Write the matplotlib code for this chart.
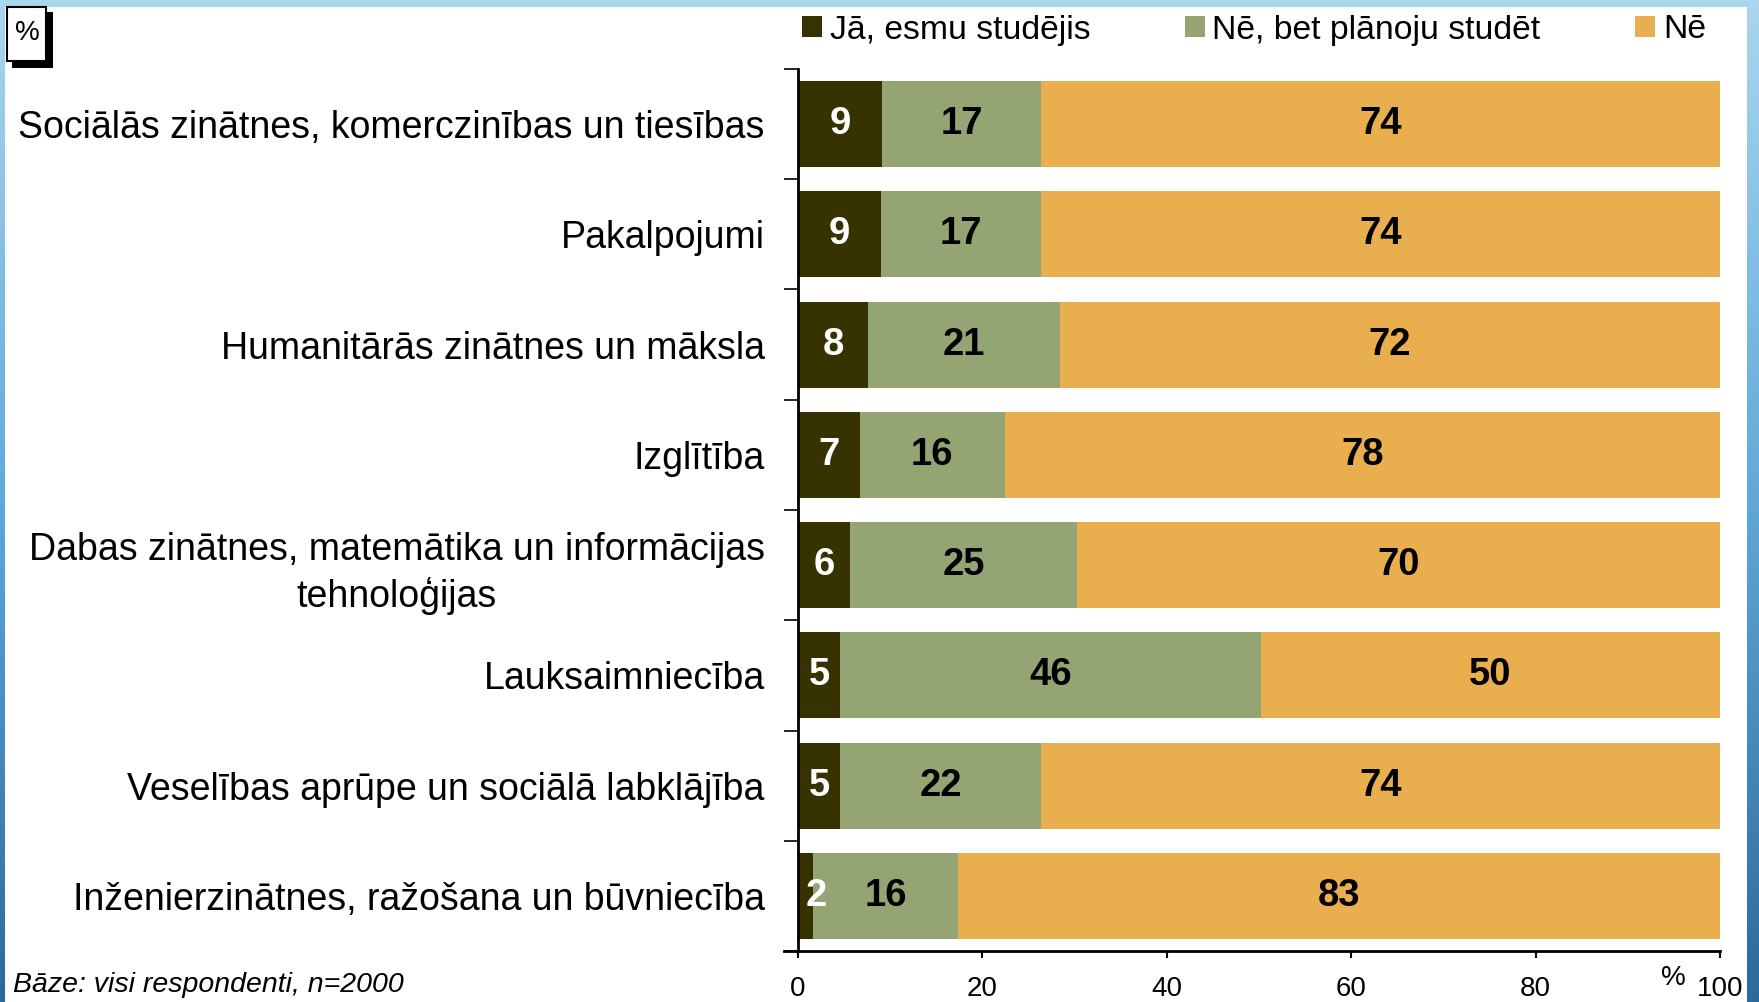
import matplotlib.pyplot as plt
import numpy as np
from matplotlib.patches import Rectangle, Patch
from matplotlib.colors import LinearSegmentedColormap

plt.rcParams['font.family'] = ['Liberation Sans', 'DejaVu Sans']

# data, top row first
categories = [
    'Sociālās zinātnes, komerczinības un tiesības',
    'Pakalpojumi',
    'Humanitārās zinātnes un māksla',
    'Izglītība',
    'Dabas zinātnes, matemātika un informācijas\ntehnoloģijas',
    'Lauksaimniecība',
    'Veselības aprūpe un sociālā labklājība',
    'Inženierzinātnes, ražošana un būvniecība',
]
studejis = [9.1, 9.0, 7.6, 6.7, 5.6, 4.6, 4.6, 1.6]
planoju = [17.3, 17.4, 20.8, 15.7, 24.7, 45.6, 21.8, 15.8]
ne = [73.6, 73.6, 71.6, 77.6, 69.7, 49.8, 73.6, 82.6]

series_names = ['Jā, esmu studējis', 'Nē, bet plānoju studēt', 'Nē']
series_colors = ['#363300', '#94a473', '#e9ae4e']
label_colors = ['white', 'black', 'black']
xticks = [0, 20, 40, 60, 80, 100]

W, H = 1759, 1002
fig = plt.figure(figsize=(W / 100, H / 100), dpi=100)

# blue frame behind a white panel
bg = fig.add_axes([0, 0, 1, 1], zorder=-10)
grad = np.linspace(0, 1, 256).reshape(-1, 1)
cmap = LinearSegmentedColormap.from_list('frame', ['#aad6ee', '#5ea9da', '#2b6a9a'])
bg.imshow(grad, aspect='auto', cmap=cmap, extent=[0, 1, 0, 1])
bg.axis('off')
fig.patches.append(Rectangle((5 / W, 0), (1747 - 5) / W, (H - 7) / H,
                             transform=fig.transFigure, facecolor='white',
                             edgecolor='none', zorder=-5))

ax = fig.add_axes([798 / W, (H - 951) / H, (1720 - 798) / W, (951 - 69) / H])
ax.patch.set_alpha(0)

y = np.arange(len(categories))
left = np.zeros(len(categories))
for vals, name, col, lc in zip([studejis, planoju, ne], series_names,
                               series_colors, label_colors):
    vals = np.array(vals)
    ax.barh(y, vals, left=left, height=0.78, color=col, label=name)
    for yi, l, v in zip(y, left, vals):
        xc = l + v / 2
        if name == series_names[0]:
            xc = max(xc, 2.0)
        ax.text(xc, yi, f'{v:.0f}', ha='center', va='center', color=lc,
                fontsize=27.5, fontweight='bold')
    left = left + vals

ax.set_xlim(0, 100)
ax.set_ylim(len(categories) - 0.5, -0.5)
for s in ['top', 'right']:
    ax.spines[s].set_visible(False)
ax.spines['left'].set_linewidth(2)
ax.spines['bottom'].set_linewidth(2)

ax.set_yticks(y)
ax.set_yticklabels(categories, fontsize=27, multialignment='center',
                   linespacing=1.3)
ax.tick_params(axis='y', which='major', length=0, pad=24)
ax.set_yticks(np.arange(-0.5, len(categories), 1), minor=True)
ax.tick_params(axis='y', which='minor', length=10, width=1.2, direction='out')

ax.set_xticks(xticks)
ax.set_xticklabels([str(t) for t in xticks])
ax.tick_params(axis='x', length=5, width=1.5, pad=13, labelsize=20)
ax.axhline(len(categories) - 0.5, xmin=-0.015, xmax=0, color='black', lw=2,
           clip_on=False)

fig.text(1673 / W, 1 - 978 / H, '%', ha='center', va='center', fontsize=20)

handles = [Patch(facecolor=c, label=n) for c, n in zip(series_colors, series_names)]
fig.legend(handles=handles, ncol=3, loc='center left',
           bbox_to_anchor=(802 / W, 1 - 30 / H), frameon=False, fontsize=24.3,
           handlelength=0.6, handleheight=0.6, handletextpad=0.22,
           columnspacing=2.8, borderpad=0, borderaxespad=0)

# "%" box with shadow in the top-left corner
fig.patches.append(Rectangle((12 / W, 1 - 68 / H), 41 / W, 56 / H,
                             transform=fig.transFigure, facecolor='black',
                             edgecolor='none', zorder=1))
fig.patches.append(Rectangle((7 / W, 1 - 61 / H), 39 / W, 54 / H,
                             transform=fig.transFigure, facecolor='white',
                             edgecolor='black', lw=1.5, zorder=2))
fig.text(27 / W, 1 - 33 / H, '%', ha='center', va='center', fontsize=20, zorder=3)

fig.text(13 / W, 1 - 985 / H, 'Bāze: visi respondenti, n=2000', style='italic',
         fontsize=20.5, va='center')

fig.savefig('out.png', dpi=100)
